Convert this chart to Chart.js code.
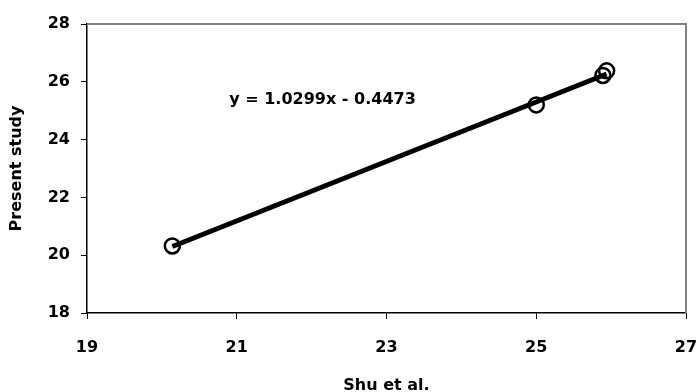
<!DOCTYPE html>
<html>
<head>
<meta charset="utf-8">
<script src="https://cdn.jsdelivr.net/npm/chart.js@4/dist/chart.umd.min.js"></script>
<style>
  html, body { margin: 0; padding: 0; background: #fff; }
  #wrap { width: 698px; height: 392px; }
</style>
</head>
<body>
<div id="wrap"><canvas id="scatter" width="698" height="392"></canvas></div>
<script>
// --- datos ---
const shuX = [20.14, 25.0, 25.89, 25.94];
const presentY = [20.32, 25.2, 26.22, 26.38];
const trendX = [20.14, 25.94];
const trendY = [20.3, 26.27];
const xTicks = [19, 21, 23, 25, 27];
const yTicks = [18, 20, 22, 24, 26, 28];
const equation = 'y = 1.0299x - 0.4473';
const equationAt = { x: 20.9, y: 25.37 };

const FONT = 'DejaVu Sans, sans-serif';
const SIZE = 16;
const ctx = document.getElementById('scatter').getContext('2d');

// marco gris (arriba / derecha) y texto de la ecuación
const frame = {
    id: 'frame',
    afterDatasetsDraw(chart) {
        const { ctx, chartArea: a, scales } = chart;
        ctx.save();
        ctx.strokeStyle = '#808080';
        ctx.lineWidth = 2;
        ctx.beginPath();
        ctx.moveTo(a.left, a.top);
        ctx.lineTo(a.right, a.top);
        ctx.lineTo(a.right, a.bottom);
        ctx.stroke();
        ctx.fillStyle = '#000';
        ctx.font = 'bold ' + SIZE + 'px ' + FONT;
        ctx.textBaseline = 'middle';
        ctx.fillText(equation, scales.x.getPixelForValue(equationAt.x), scales.y.getPixelForValue(equationAt.y));
        ctx.restore();
    }
};

const tickFont = { family: FONT, size: SIZE, weight: 'bold' };

new Chart(ctx, {
    type: 'scatter',
    data: {
        datasets: [
            {
                label: 'trend',
                data: trendX.map((x, i) => ({ x, y: trendY[i] })),
                showLine: true,
                borderColor: '#000',
                borderWidth: 5,
                pointRadius: 0,
                order: 1
            },
            {
                label: 'datos',
                data: shuX.map((x, i) => ({ x, y: presentY[i] })),
                pointStyle: 'circle',
                pointRadius: 7.5,
                pointBorderWidth: 2.5,
                borderColor: '#000',
                backgroundColor: 'rgba(0,0,0,0)',
                order: 2
            }
        ]
    },
    options: {
        responsive: false,
        animation: false,
        layout: { padding: { top: 24, right: 12, left: 0, bottom: 0 } },
        plugins: { legend: { display: false }, tooltip: { enabled: false } },
        scales: {
            x: {
                type: 'linear',
                min: 19, max: 27,
                afterBuildTicks: s => { s.ticks = xTicks.map(v => ({ value: v })); },
                afterFit: s => { s.height = 79; s.paddingLeft = 0; s.paddingRight = 0; },
                grid: { drawOnChartArea: false, tickLength: 6, color: '#000', lineWidth: 1 },
                border: { color: '#000', width: 1.5 },
                ticks: { color: '#000', font: tickFont, padding: 19 },
                title: { display: true, text: 'Shu et al.', color: '#000', font: tickFont, padding: { top: 20, bottom: -3 } }
            },
            y: {
                type: 'linear',
                min: 18, max: 28,
                afterBuildTicks: s => { s.ticks = yTicks.map(v => ({ value: v })); },
                afterFit: s => { s.width = 87; s.paddingTop = 0; s.paddingBottom = 0; },
                grid: { drawOnChartArea: false, tickLength: 6, color: '#000', lineWidth: 1 },
                border: { color: '#000', width: 1.5 },
                ticks: { color: '#000', font: tickFont, padding: 11 },
                title: { display: true, text: 'Present study', color: '#000', font: tickFont, padding: { top: 7, bottom: 4 } }
            }
        }
    },
    plugins: [frame]
});
</script>
</body>
</html>
